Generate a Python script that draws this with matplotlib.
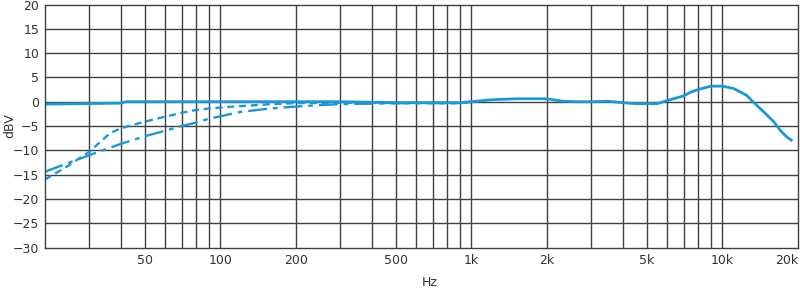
import numpy as np
import matplotlib.pyplot as plt
from matplotlib.ticker import FixedLocator, NullFormatter, NullLocator

# ----------------------------------------------------------------------
# DATA
# ----------------------------------------------------------------------
flat_hz = [20, 40, 42, 100, 200, 300, 500, 700, 900, 1000, 1200, 1500, 2000,
           2300, 2600, 3000, 3500, 4000, 4500, 5000, 5500, 6000, 7000, 7500,
           8000, 9000, 10000, 11100, 12500, 13100, 14600, 16000, 17000, 18000, 18800]
flat_db = [-0.5, -0.3, 0.0, 0.0, 0.0, 0.0, -0.2, -0.2, -0.2, 0.0, 0.4, 0.6, 0.6,
           0.1, 0.0, 0.0, 0.1, -0.2, -0.4, -0.4, -0.4, 0.2, 1.2, 2.0,
           2.5, 3.2, 3.2, 2.7, 1.3, 0.2, -2.1, -4.1, -5.9, -7.2, -7.9]

cut1_hz = [20, 24.4, 30, 36.3, 40, 50, 60, 70, 80, 90, 100, 158, 200, 300, 500, 900, 1000]
cut1_db = [-16.0, -13.4, -10.3, -6.5, -5.5, -4.1, -3.1, -2.3, -1.7, -1.4, -1.2, -0.5,
           -0.3, -0.2, -0.3, -0.3, 0.0]

cut2_hz = [20, 30, 40, 50, 60, 70, 80, 90, 100, 120, 158, 200, 250, 300, 400, 500, 900, 1000]
cut2_db = [-14.4, -11.0, -8.7, -7.1, -6.0, -5.0, -4.3, -3.5, -3.0, -2.1, -1.4, -1.0,
           -0.7, -0.5, -0.4, -0.3, -0.3, 0.0]

x_ticks = [50, 100, 200, 500, 1000, 2000, 5000, 10000, 20000]
x_labels = ["50", "100", "200", "500", "1k", "2k", "5k", "10k", "20k"]
y_ticks = list(range(-30, 21, 5))

# ----------------------------------------------------------------------
# PLOT
# ----------------------------------------------------------------------
BLUE = "#1b98d8"
GRID = "#404040"
TXT = "#333333"

plt.rcParams['font.family'] = ['DejaVu Sans']
fig = plt.figure(figsize=(8.0, 2.91), dpi=100)
ax = fig.add_axes([45 / 800, 43.5 / 291, 753 / 800, 243 / 291])

ax.plot(cut1_hz, cut1_db, color=BLUE, linewidth=1.7, linestyle=(0, (3, 2)))
ax.plot(cut2_hz, cut2_db, color=BLUE, linewidth=1.7, linestyle=(0, (8, 2.5, 2, 2.5)))
ax.plot(flat_hz, flat_db, color=BLUE, linewidth=2.0)

ax.set_xscale('log')
ax.set_xlim(20, 20000)
ax.set_ylim(-30, 20)

# grid lines at every 1-2-3...-9 of each decade
grid_x = [m * 10 ** d for d in range(1, 5) for m in range(1, 10)]
grid_x = [g for g in grid_x if 20 < g < 20000]
for g in grid_x:
    ax.axvline(g, color=GRID, linewidth=1.0, zorder=0)
for y in y_ticks[1:-1]:
    ax.axhline(y, color=GRID, linewidth=1.0, zorder=0)

ax.xaxis.set_major_locator(FixedLocator(x_ticks))
ax.set_xticklabels(x_labels)
ax.xaxis.set_minor_locator(NullLocator())
ax.xaxis.set_minor_formatter(NullFormatter())
ax.set_yticks(y_ticks)
ax.tick_params(axis='both', length=0, labelsize=9, colors=TXT, pad=5)
ax.tick_params(axis='y', pad=4)

# keep the last label inside the figure
lbls = ax.get_xticklabels()
lbls[-1].set_horizontalalignment('right')
lbls[-1].set_x(1.0)

for s in ax.spines.values():
    s.set_color(GRID)
    s.set_linewidth(1.0)

fig.text(430 / 800, 1 - 283 / 291, "Hz", fontsize=9, color=TXT, ha='center', va='center')
fig.text(10 / 800, 1 - 126 / 291, "dBV", fontsize=9, color=TXT, ha='center', va='center',
         rotation=90)

plt.savefig("out.png", dpi=100)
plt.close()
